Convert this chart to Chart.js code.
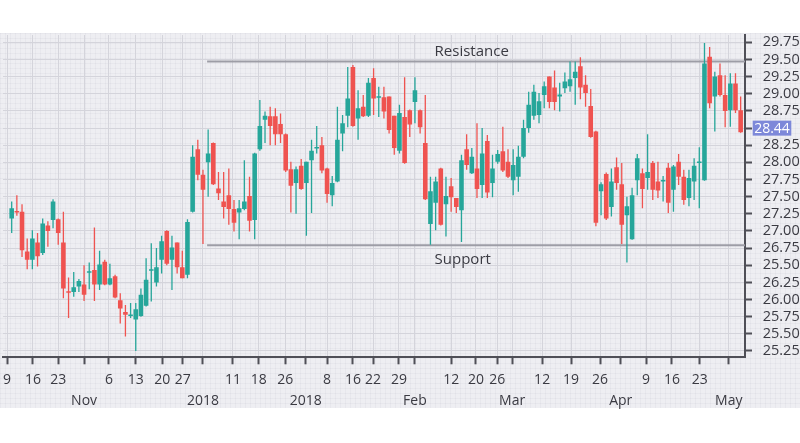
<!DOCTYPE html>
<html>
<head>
<meta charset="utf-8">
<script src="https://cdn.jsdelivr.net/npm/chart.js@4.4.0/dist/chart.umd.min.js"></script>
<style>
  html,body{margin:0;padding:0;background:#fff;}
  .wrap{position:relative;width:800px;height:443px;overflow:hidden;}
  .paper{position:absolute;left:0;top:33px;width:800px;height:375px;background-color:#eeeef2;
    background-image:linear-gradient(to right, rgba(100,100,130,.05) 1px, transparent 1px),
                     linear-gradient(to bottom, rgba(100,100,130,.05) 1px, transparent 1px);
    background-size:5px 5px;}
  canvas{position:absolute;left:0;top:0;}
</style>
</head>
<body>
<div class="wrap"><div class="paper"></div><canvas id="chart" width="800" height="443"></canvas></div>
<script>
// OHLC, one entry per session
const openP = [
  27.18,27.29,27.28,26.70,26.58,26.83,26.68,27.08,27.16,27.17,
  26.83,26.12,26.11,26.19,26.22,26.39,26.43,26.22,26.55,26.22,
  26.34,25.99,25.82,25.76,25.71,25.76,25.91,26.42,26.25,26.58,
  27.00,26.58,26.83,26.47,26.36,27.28,28.19,27.82,28.00,28.28,
  27.62,27.43,27.52,27.32,27.27,27.32,27.51,27.16,28.19,28.62,
  28.67,28.67,28.56,28.41,27.90,27.70,27.95,27.70,28.03,28.20,
  28.25,27.91,27.52,27.72,28.42,28.68,29.39,28.64,28.81,28.68,
  29.23,28.94,28.95,28.96,28.68,28.17,28.66,28.76,28.88,28.76,
  28.28,27.10,27.41,27.91,27.39,27.65,27.48,27.30,28.19,27.84,
  27.91,27.67,28.31,27.70,28.01,28.16,28.01,27.74,27.79,28.08,
  28.50,28.68,28.69,28.98,29.25,29.09,28.96,29.08,29.11,29.23,
  29.40,29.13,28.82,28.45,27.58,27.83,27.35,27.93,27.68,27.23,
  26.88,27.74,27.84,27.77,27.99,27.72,27.72,27.92,27.60,28.01,
  27.79,27.48,27.72,27.99,27.74,29.54,28.96,29.27,28.98,28.76,
  29.15,28.76
];
const highP = [
  27.43,27.52,27.39,26.89,27.01,26.97,27.18,27.14,27.46,27.18,
  27.28,26.32,26.40,26.30,26.50,26.54,27.05,26.71,26.58,26.52,
  26.36,26.09,25.92,25.95,25.95,26.16,26.60,26.82,26.75,26.93,
  27.01,26.93,26.83,26.71,27.17,28.25,28.33,27.89,28.48,28.29,
  27.86,27.86,27.91,27.45,27.45,28.03,27.79,28.14,28.91,28.74,
  28.81,28.79,28.71,28.42,28.01,27.94,28.05,28.01,28.33,28.53,
  28.37,27.92,27.80,28.81,28.69,29.39,29.42,29.05,28.98,29.23,
  29.37,29.10,29.10,28.96,28.68,28.84,29.24,28.77,29.24,28.77,
  28.98,27.79,27.79,27.92,27.79,27.77,27.48,28.11,28.41,28.21,
  28.57,28.50,28.40,28.11,28.18,28.52,28.19,28.19,28.24,28.62,
  29.03,29.13,29.01,29.18,29.25,29.34,29.16,29.31,29.47,29.47,
  29.53,29.27,29.07,28.46,27.71,27.85,27.91,28.07,27.99,27.50,
  27.63,28.12,27.91,28.41,28.02,28.01,27.80,27.99,27.96,28.12,
  27.89,27.89,28.06,28.22,29.74,29.68,29.32,29.44,29.27,29.30,
  29.30,28.96
];
const lowP = [
  26.97,27.22,26.62,26.44,26.44,26.48,26.65,26.77,27.04,26.80,
  26.02,25.73,26.04,26.11,25.98,26.15,25.98,26.14,26.21,26.21,
  26.02,25.65,25.46,25.73,25.25,25.75,25.90,25.97,26.19,26.38,
  26.50,26.14,26.38,26.31,26.31,27.27,27.74,26.81,27.50,27.67,
  27.45,27.18,27.09,26.99,26.88,27.30,26.99,26.88,28.17,28.28,
  28.25,28.25,28.28,27.86,27.27,27.25,27.60,26.93,27.26,28.13,
  27.84,27.41,27.36,27.71,28.16,28.51,28.52,28.33,28.66,28.66,
  28.69,28.66,28.64,28.42,28.11,28.13,27.98,28.37,28.57,28.42,
  27.45,26.80,27.01,27.08,26.92,27.28,27.26,26.84,27.89,27.83,
  27.48,27.48,27.48,27.49,27.98,27.86,27.77,27.52,27.57,28.06,
  28.43,28.62,28.57,28.79,28.79,28.76,28.74,29.01,29.03,28.84,
  28.92,28.81,28.36,27.07,27.23,27.16,27.21,27.60,26.81,26.54,
  26.87,27.52,27.33,27.60,27.45,27.48,27.43,27.26,27.28,27.67,
  27.38,27.36,27.45,27.33,27.73,28.79,28.45,28.96,28.51,28.52,
  28.72,28.43
];
const closeP = [
  27.33,27.27,26.72,26.58,26.89,26.63,27.11,27.00,27.43,26.97,
  26.16,26.10,26.18,26.27,26.07,26.40,26.22,26.51,26.22,26.31,
  26.03,25.87,25.78,25.77,25.86,26.07,26.29,26.43,26.47,26.85,
  26.52,26.76,26.47,26.31,27.13,28.08,27.82,27.60,28.13,27.68,
  27.55,27.35,27.32,27.12,27.33,27.43,27.15,28.13,28.53,28.68,
  28.53,28.41,28.41,27.88,27.66,27.90,27.61,28.01,28.17,28.21,
  27.88,27.54,27.70,28.33,28.57,28.93,28.53,28.79,28.67,29.16,
  28.93,28.95,28.74,28.47,28.21,28.72,27.99,28.55,29.05,28.51,
  27.46,27.58,27.72,27.09,27.51,27.49,27.35,28.03,27.96,28.08,
  27.61,28.13,27.56,27.91,28.12,27.88,27.79,27.96,28.08,28.50,
  28.84,29.03,28.89,29.11,28.88,28.88,28.99,29.18,29.21,29.32,
  29.09,29.01,28.37,27.12,27.68,27.18,27.72,27.70,27.09,27.36,
  27.52,28.06,27.61,27.86,27.60,27.59,27.74,27.41,27.94,27.79,
  27.45,27.77,27.95,28.01,29.44,28.86,29.25,28.98,28.75,29.15,
  28.76,28.44
];

// axis ticks (x positions in session units)
const xTickPos = [-0.9,4.1,9,14,18.8,24,29.1,33.1,37,42.8,47.8,52.9,56.9,61,66,69.9,74.9,78,85,89.8,93.9,96.8,102.6,108.2,113.8,117.8,122.7,127.7,133.1,138.7];
const xTickLabels = ['9','16','23',['','Nov'],'6','13','20','27',['','2018'],'11','18','26',['','2018'],'8','16','22','29',['','Feb'],'12','20','26',['','Mar'],'12','19','26',['','Apr'],'9','16','23',['','May']];
const yTicks = [25.25,25.5,25.75,26,26.25,26.5,26.75,27,27.25,27.5,27.75,28,28.25,28.5,28.75,29,29.25,29.5,29.75];
const yTickLabels = ['25.25','25.50','25.75','26.00','26.25','25.50','26.75','27.00','27.25','27.50','27.75','28.00','28.25','','28.75','29.00','29.25','29.50','29.75'];

// support / resistance levels
const resistance = 29.47, support = 26.79;
const levelFrom = 37.8, levelLabelAt = 81.8;

const X_MIN = -1.68, X_MAX = 141.84, Y_MIN = 25.158, Y_MAX = 29.856;
const UP = '#26a69a', DOWN = '#ef5350', INK = '#3a3a42', AXIS = '#4f4f57', GRID = '#d4d4db';

const idx = closeP.map((_, i) => i);
const colors = idx.map(i => closeP[i] >= openP[i] ? UP : DOWN);

const overlay = {
  id: 'overlay',
  afterDatasetsDraw(chart) {
    const {ctx, scales: {x, y}} = chart;
    ctx.save();
    ctx.font = '15px "Open Sans", sans-serif';
    ctx.fillStyle = INK;
    ctx.textAlign = 'left';
    ctx.textBaseline = 'alphabetic';
    const lx = x.getPixelForValue(levelLabelAt);
    ctx.fillText('Resistance', lx, y.getPixelForValue(resistance) - 5.5);
    ctx.fillText('Support', lx, y.getPixelForValue(support) + 18.5);
    // last price tag
    const last = closeP[closeP.length - 1];
    const py = y.getPixelForValue(last) - 4;
    ctx.fillStyle = '#7d88d9';
    ctx.fillRect(y.left + 7.7, py - 7.5, 38.6, 15);
    ctx.fillStyle = '#fff';
    ctx.font = '14px "Open Sans", sans-serif';
    ctx.textAlign = 'center';
    ctx.textBaseline = 'middle';
    ctx.fillText(last.toFixed(2), y.left + 27, py + 0.5);
    ctx.restore();
  }
};

Chart.defaults.font.family = '"Open Sans", sans-serif';

new Chart(document.getElementById('chart'), {
  type: 'bar',
  data: {
    datasets: [
      {label: 'body', data: idx.map(i => ({x: i, y: [openP[i], closeP[i]]})), backgroundColor: colors,
        barThickness: 4.6, minBarLength: 1.5, grouped: false, inflateAmount: 0, order: 1},
      {label: 'wick', data: idx.map(i => ({x: i, y: [lowP[i], highP[i]]})), backgroundColor: colors,
        barThickness: 1.3, grouped: false, inflateAmount: 0, order: 2},
      {type: 'line', label: 'resistance', data: [{x: levelFrom, y: resistance}, {x: X_MAX, y: resistance}],
        borderColor: '#9d9da6', borderWidth: 2, pointRadius: 0, order: 3},
      {type: 'line', label: 'support', data: [{x: levelFrom, y: support}, {x: X_MAX, y: support}],
        borderColor: '#9d9da6', borderWidth: 2, pointRadius: 0, order: 3}
    ]
  },
  options: {
    responsive: false, animation: false, devicePixelRatio: 1,
    layout: {padding: {left: 3, top: 35, right: 0, bottom: 0}},
    plugins: {legend: {display: false}, tooltip: {enabled: false}},
    scales: {
      x: {
        type: 'linear', min: X_MIN, max: X_MAX, offset: false,
        grid: {offset: false, color: GRID, lineWidth: 1, tickLength: 7, tickColor: AXIS, tickWidth: 2},
        border: {display: true, color: AXIS, width: 2},
        afterBuildTicks: ax => { ax.ticks = xTickPos.map(v => ({value: v})); },
        afterFit: ax => { ax.height = 85.7; ax.paddingLeft = 0; ax.paddingRight = 0; },
        ticks: {autoSkip: false, maxRotation: 0, padding: 5, color: INK, font: {size: 14, lineHeight: 1.5},
          callback: (v, i) => xTickLabels[i]}
      },
      y: {
        type: 'linear', position: 'right', min: Y_MIN, max: Y_MAX, beginAtZero: false,
        grid: {color: GRID, lineWidth: 1, tickLength: 7, tickColor: AXIS, tickWidth: 2},
        border: {display: true, color: AXIS, width: 2},
        afterBuildTicks: ax => { ax.ticks = yTicks.map(v => ({value: v})); },
        afterFit: ax => { ax.width = 55; ax.paddingTop = 0; ax.paddingBottom = 0; },
        ticks: {autoSkip: false, padding: 10.7, color: INK, font: {size: 14.5}, callback: (v, i) => yTickLabels[i]}
      }
    }
  },
  plugins: [overlay]
});
</script>
</body>
</html>
